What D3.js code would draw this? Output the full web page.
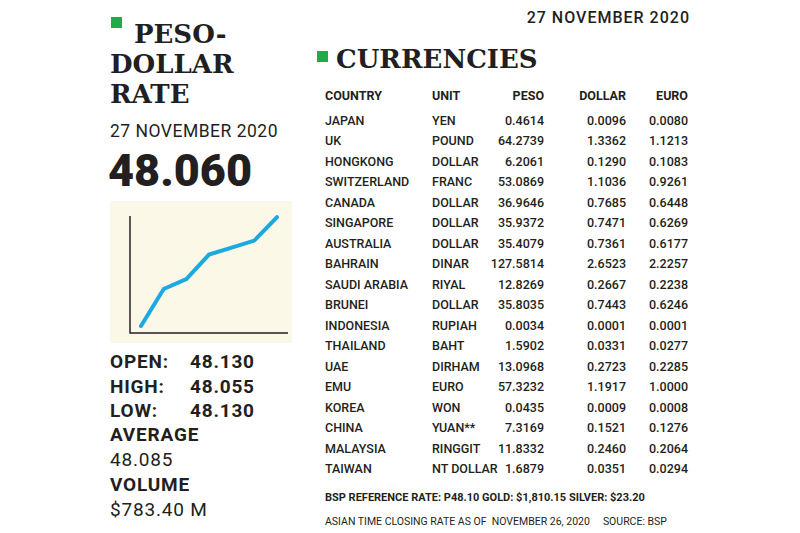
<!DOCTYPE html>
<html><head><meta charset="utf-8">
<script src="https://cdn.jsdelivr.net/npm/d3@7"></script>
<style>body{margin:0;background:#fff}</style>
</head><body>
<svg id="c" width="800" height="533"></svg>
<script>
const trendIdx = [0, 1, 2, 3, 4, 5, 6];
const trendVals = [0.6, 3.76, 4.6, 6.7, 7.3, 7.9, 9.9];
const countries = ["JAPAN","UK","HONGKONG","SWITZERLAND","CANADA","SINGAPORE","AUSTRALIA","BAHRAIN","SAUDI ARABIA","BRUNEI","INDONESIA","THAILAND","UAE","EMU","KOREA","CHINA","MALAYSIA","TAIWAN"];
const units = ["YEN","POUND","DOLLAR","FRANC","DOLLAR","DOLLAR","DOLLAR","DINAR","RIYAL","DOLLAR","RUPIAH","BAHT","DIRHAM","EURO","WON","YUAN**","RINGGIT","NT DOLLAR"];
const peso = ["0.4614","64.2739","6.2061","53.0869","36.9646","35.9372","35.4079","127.5814","12.8269","35.8035","0.0034","1.5902","13.0968","57.3232","0.0435","7.3169","11.8332","1.6879"];
const dollar = ["0.0096","1.3362","0.1290","1.1036","0.7685","0.7471","0.7361","2.6523","0.2667","0.7443","0.0001","0.0331","0.2723","1.1917","0.0009","0.1521","0.2460","0.0351"];
const euro = ["0.0080","1.1213","0.1083","0.9261","0.6448","0.6269","0.6177","2.2257","0.2238","0.6246","0.0001","0.0277","0.2285","1.0000","0.0008","0.1276","0.2064","0.0294"];
const stats = [["OPEN:","48.130"],["HIGH:","48.055"],["LOW:","48.130"]];

const svg = d3.select("#c");
const slab = "'DejaVu Serif', serif";
const sans = "Roboto, 'Open Sans', sans-serif";
const ink = "#231f20";

// top-right date
svg.append("text").attr("x", 690).attr("y", 23).attr("text-anchor", "end")
  .attr("font-family", sans).attr("font-size", 16).attr("font-weight", 500)
  .attr("letter-spacing", 1).attr("fill", ink).text("27 NOVEMBER 2020");

// left title
svg.append("rect").attr("x", 111).attr("y", 17).attr("width", 11).attr("height", 11).attr("fill", "#1faa4b");
["PESO-", "DOLLAR", "RATE"].forEach((t, i) => {
  svg.append("text").attr("x", i ? 110 : 134).attr("y", 43 + i * 30)
    .attr("font-family", slab).attr("font-weight", "bold").attr("font-size", 26)
    .attr("fill", ink).text(t);
});
svg.append("text").attr("x", 110).attr("y", 137).attr("font-family", sans).attr("font-size", 17.5)
  .attr("letter-spacing", 0.5).attr("fill", ink).text("27 NOVEMBER 2020");
svg.append("text").attr("x", 108).attr("y", 186).attr("font-family", sans).attr("font-weight", 900)
  .attr("font-size", 45).attr("fill", ink).text("48.060");

// mini chart
svg.append("rect").attr("x", 110).attr("y", 201).attr("width", 182).attr("height", 142).attr("fill", "#fcf8e8");
const x = d3.scaleLinear().domain([0, 6]).range([141, 277]);
const y = d3.scaleLinear().domain([0, 10]).range([333, 216]);
svg.append("path").attr("d", `M130,${y(10)}V${y(0)}H288`).attr("fill", "none").attr("stroke", ink).attr("stroke-width", 1.5);
svg.append("path").datum(trendIdx)
  .attr("d", d3.line().x(i => x(i)).y(i => y(trendVals[i])))
  .attr("fill", "none").attr("stroke", "#1ba9e1").attr("stroke-width", 4).attr("stroke-linecap", "round");

// stats
stats.forEach(([k, v], i) => {
  const t = svg.append("text").attr("x", 110).attr("y", 368 + i * 24.5).attr("font-family", sans)
    .attr("font-size", 19).attr("font-weight", 700).attr("letter-spacing", 0.8).attr("fill", ink);
  t.append("tspan").text(k);
  t.append("tspan").attr("x", 190).text(v);
});
[["AVERAGE", 700, 441], ["48.085", 400, 466], ["VOLUME", 700, 491], ["$783.40 M", 400, 516]].forEach(([t, w, yy]) => {
  svg.append("text").attr("x", 110).attr("y", yy).attr("font-family", sans).attr("font-size", 19)
    .attr("font-weight", w).attr("letter-spacing", 0.8).attr("fill", ink).text(t);
});

// currencies
svg.append("rect").attr("x", 317).attr("y", 51).attr("width", 11).attr("height", 11).attr("fill", "#1faa4b");
svg.append("text").attr("x", 336).attr("y", 68).attr("font-family", slab).attr("font-weight", "bold")
  .attr("font-size", 26).attr("fill", ink).text("CURRENCIES");

const cols = [
  { h: "COUNTRY", x: 325, a: "start", d: countries },
  { h: "UNIT", x: 432, a: "start", d: units },
  { h: "PESO", x: 544, a: "end", d: peso },
  { h: "DOLLAR", x: 626, a: "end", d: dollar },
  { h: "EURO", x: 688, a: "end", d: euro }
];
const ry = d3.scaleLinear().domain([0, countries.length - 1]).range([125, 473]);
cols.forEach(c => {
  svg.append("text").attr("x", c.x).attr("y", 100).attr("text-anchor", c.a).attr("font-family", sans)
    .attr("font-size", 12.5).attr("font-weight", 700).attr("fill", ink).text(c.h);
  svg.append("g").selectAll("text").data(c.d).join("text")
    .attr("x", c.x).attr("y", (d, i) => ry(i)).attr("text-anchor", c.a).attr("font-family", sans)
    .attr("font-size", 12.5).attr("font-weight", 500).attr("fill", ink).text(d => d);
});
svg.append("text").attr("x", 325).attr("y", 501).attr("font-family", sans).attr("font-size", 11)
  .attr("font-weight", 700).attr("fill", ink).text("BSP REFERENCE RATE: P48.10 GOLD: $1,810.15  SILVER: $23.20");
svg.append("text").attr("x", 325).attr("y", 525).attr("font-family", sans).attr("font-size", 10.5)
  .attr("fill", ink).attr("xml:space", "preserve")
  .text("ASIAN TIME CLOSING RATE AS OF  NOVEMBER 26, 2020     SOURCE: BSP");
</script>
</body></html>
